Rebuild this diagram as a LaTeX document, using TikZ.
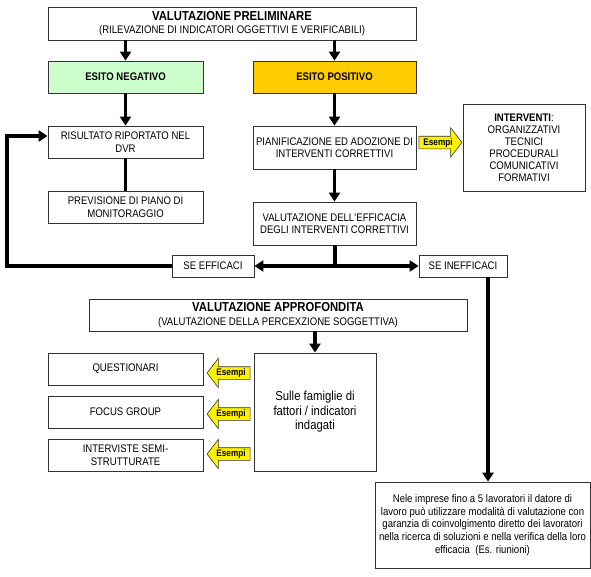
\documentclass[tikz,border=0pt]{standalone}
\usepackage{fontspec}
\setmainfont[FakeStretch=0.87]{Liberation Sans}
\usetikzlibrary{arrows.meta,shapes.arrows}

\definecolor{negcol}{HTML}{CCFFCC}
\definecolor{poscol}{HTML}{FFCC00}

\begin{document}
\begin{tikzpicture}[
            x = 1pt, y = -1pt, % pixel grid, y downwards
            box/.style = {draw=black!80, line width=0.8pt, align=center, inner sep=1pt,
                font=\fontsize{11}{12.5}\selectfont},
            bigarrow/.style = {line width=3.5pt, -{Triangle[width=11pt,length=9pt]}},
            bigline/.style = {line width=3.5pt},
            esempi/.style = {single arrow, draw=black!80, fill=yellow, line width=0.6pt,
                minimum height=43pt, single arrow head extend=8.5pt, single arrow tip angle=105,
                inner sep=1.5pt, text height=7pt, text depth=2pt,
                font=\fontsize{9.5}{10}\selectfont\bfseries}
        ]

	\useasboundingbox (0,0) rectangle (591,576);

	\node[box, minimum width=368pt, minimum height=33pt] (pre) at (232,23.5)
		{{\fontsize{13}{15}\selectfont\bfseries VALUTAZIONE PRELIMINARE}\\[1pt]
		(RILEVAZIONE DI INDICATORI OGGETTIVI E VERIFICABILI)};
	\node[box, fill=negcol, minimum width=155pt, minimum height=32pt,
		font=\fontsize{11}{12.5}\selectfont\bfseries] (neg) at (125.5,77) {ESITO NEGATIVO};
	\node[box, fill=poscol, minimum width=163pt, minimum height=32pt,
		font=\fontsize{11}{12.5}\selectfont\bfseries] (pos) at (334.5,77) {ESITO POSITIVO};

	\node[box, minimum width=155pt, minimum height=32pt] (ris) at (125.5,142) {RISULTATO RIPORTATO NEL\\DVR};
	\node[box, minimum width=155pt, minimum height=32pt] (prev) at (125.5,207) {PREVISIONE DI PIANO DI\\MONITORAGGIO};
	\node[box, minimum width=163pt, minimum height=43pt] (pian) at (334.5,147.5) {PIANIFICAZIONE ED ADOZIONE DI\\INTERVENTI CORRETTIVI};
	\node[box, minimum width=122pt, minimum height=87pt, font=\fontsize{11}{12}\selectfont] (interv) at (524,147.5)
		{\textbf{INTERVENTI}:\\ORGANIZZATIVI\\TECNICI\\PROCEDURALI\\COMUNICATIVI\\FORMATIVI};
	\node[esempi] (ex0) at (438,142.5) {Esempi};
	\node[box, minimum width=163pt, minimum height=43pt] (valeff) at (334.5,223.5)
		{VALUTAZIONE DELL\textquotesingle EFFICACIA\\DEGLI INTERVENTI CORRETTIVI};

	\node[box, minimum width=82pt, minimum height=22pt] (seeff) at (213,266) {SE EFFICACI};
	\node[box, minimum width=88pt, minimum height=22pt] (seineff) at (463,266) {SE INEFFICACI};

	\node[box, minimum width=378pt, minimum height=32pt] (appr) at (278,315)
		{{\fontsize{13}{15}\selectfont\bfseries VALUTAZIONE APPROFONDITA}\\[1pt]
		(VALUTAZIONE DELLA PERCEXZIONE SOGGETTIVA)};
	\node[box, minimum width=122pt, minimum height=118pt, font=\fontsize{13}{14.5}\selectfont] (sulle) at (315,412)
		{Sulle famiglie di\\fattori / indicatori\\indagati};
	\node[box, minimum width=155pt, minimum height=32pt] (quest) at (125.5,369) {QUESTIONARI};
	\node[box, minimum width=155pt, minimum height=32pt] (focus) at (125.5,412) {FOCUS GROUP};
	\node[box, minimum width=155pt, minimum height=32pt] (intvs) at (125.5,455) {INTERVISTE SEMI-\\STRUTTURATE};
	\node[esempi, shape border rotate=180] (ex1) at (231,373) {Esempi};
	\node[esempi, shape border rotate=180] (ex2) at (231,414) {Esempi};
	\node[esempi, shape border rotate=180] (ex3) at (231,454) {Esempi};

	\node[box, minimum width=215pt, minimum height=86pt, font=\fontsize{11}{12.7}\selectfont] (fin) at (482.5,525)
		{Nele imprese fino a 5 lavoratori il datore di\\
		lavoro può utilizzare modalità di valutazione con\\
		garanzia di coinvolgimento diretto dei lavoratori\\
		nella ricerca di soluzioni e nella verifica della loro\\
		efficacia~~(Es. riunioni)};

	\draw[bigarrow] (pre.south -| neg.north) -- (neg.north);
	\draw[bigarrow] (pre.south -| pos.north) -- (pos.north);
	\draw[bigarrow] (neg) -- (ris);
	\draw[bigline] (ris) -- (prev);
	\draw[bigarrow] (pos) -- (pian);
	\draw[bigarrow] (pian) -- (valeff);

	\coordinate (split) at (335,266);
	\draw[bigline] (valeff.south -| split) -- (split);
	\draw[bigarrow] (split) -- (seeff.east);
	\draw[bigarrow] (split) -- (seineff.west);

	\coordinate (back) at (7,136);
	\draw[bigarrow] (seeff.west) -| (back) -- (back -| ris.west);

	\coordinate (drop) at (488,277);
	\draw[bigarrow] (drop) -- (drop |- fin.north);
	\draw[bigarrow] (sulle.north |- appr.south) -- (sulle.north);

\end{tikzpicture}
\end{document}
